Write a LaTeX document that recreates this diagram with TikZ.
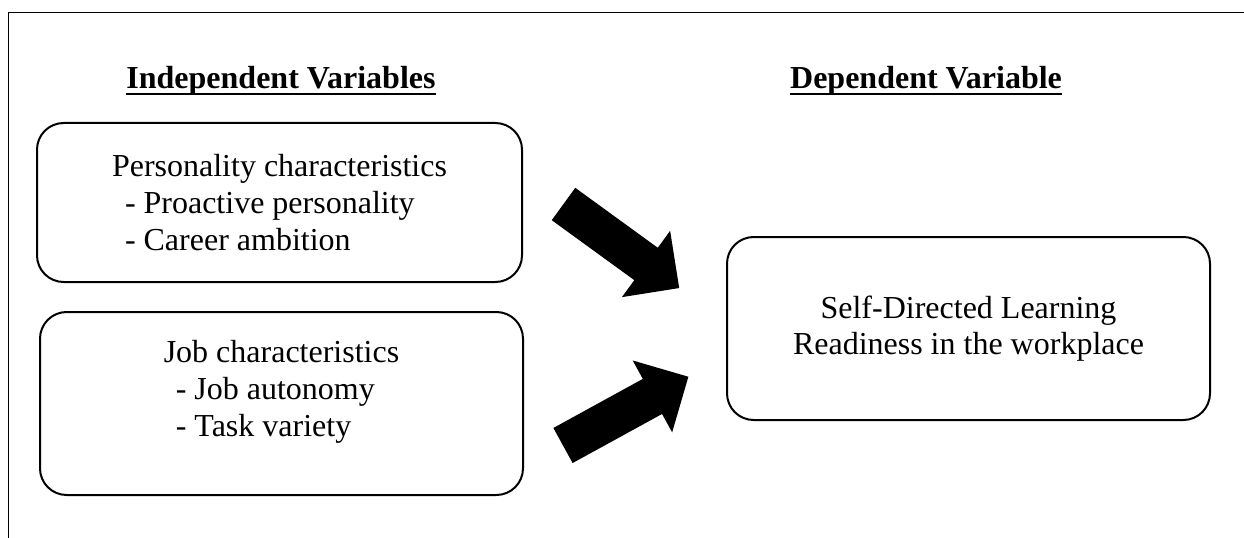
\documentclass[tikz,border=0pt]{standalone}
\usepackage{fontspec}
\setmainfont{Liberation Serif}
\usetikzlibrary{positioning}

\tikzset{
  varbox/.style={draw, line width=1.5pt, rounded corners=20pt, inner sep=0pt,
    align=left, font=\fontsize{24}{27.5}\selectfont},
  vartitle/.style={font=\fontsize{24}{27.5}\selectfont\bfseries, inner sep=0pt, anchor=base},
  uline/.style={line width=1.5pt},
  fatarrow/.style={fill=black}
}

\begin{document}
\begin{tikzpicture}[x=0.75pt, y=-0.75pt]

    \useasboundingbox (0,0) rectangle (1244,538);

    % Frame
    \draw[line width=1pt] (1244,12.5) -- (8.5,12.5) -- (8.5,538);

    % Headings
    \node[vartitle] (ivt) at (281,89) {Independent Variables};
    \node[vartitle] (dvt) at (926,89) {Dependent Variable};
    \draw[uline] ([yshift=-4pt]ivt.base west) -- ([yshift=-4pt]ivt.base east);
    \draw[uline] ([yshift=-4pt]dvt.base west) -- ([yshift=-4pt]dvt.base east);

    % Independent variables
    \node[varbox, minimum width=363.75pt, minimum height=119.25pt] (pers) at (279.5,202.5)
      {Personality characteristics\\ \hspace*{9.75pt}- Proactive personality\\
       \hspace*{9.75pt}- Career ambition};
    \node[varbox, minimum width=362.25pt, minimum height=137.25pt,
          below=21pt of pers, xshift=1.5pt] (job)
      {Job characteristics\\ \hspace*{9pt}- Job autonomy\\
       \hspace*{9pt}- Task variety\rule[-22.5pt]{0pt}{22.5pt}};

    % Dependent variable
    \node[varbox, align=center, minimum width=362.25pt, minimum height=137.25pt] (sdl) at (968.5,328.5)
      {Self-Directed Learning\\Readiness in the workplace};

    % Arrows
    \coordinate (ta) at (563.5,204);
    \coordinate (tb) at (563,445.5);
    \fill[fatarrow, shift={(ta)}, rotate=-36]
      (0,-20) -- (102,-20) -- (102,-41) -- (143,0) -- (102,41) -- (102,20) -- (0,20) -- cycle;
    \fill[fatarrow, shift={(tb)}, rotate=28.75]
      (0,-20) -- (102,-20) -- (102,-41) -- (143,0) -- (102,41) -- (102,20) -- (0,20) -- cycle;

\end{tikzpicture}
\end{document}
